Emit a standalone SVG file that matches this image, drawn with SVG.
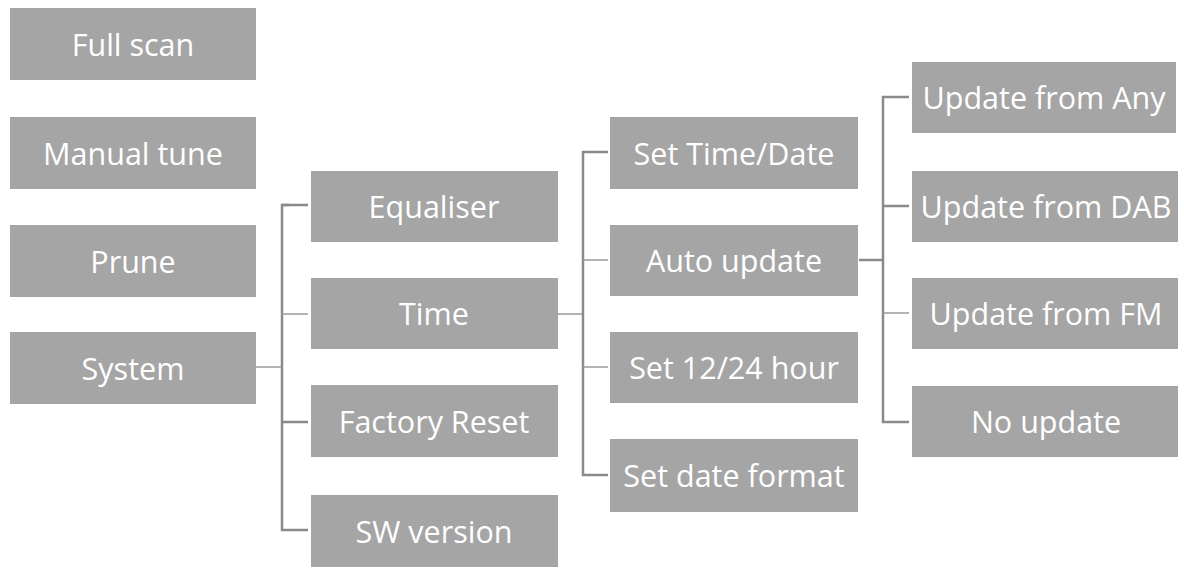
<svg xmlns="http://www.w3.org/2000/svg" width="1184" height="571" viewBox="0 0 1184 571">
<style>
.box{fill:#a5a5a5}
.lbl{fill:#ffffff;font-family:"Open Sans","Noto Sans",sans-serif;font-size:30.5px;text-anchor:middle}
.ln{stroke:#8a8a8a;stroke-width:2.5;fill:none}
.thin{stroke:#9a9a9a;stroke-width:1.5;fill:none}
</style>
<rect width="1184" height="571" fill="#ffffff"/>
<g id="connectors">
<path class="ln" d="M289,205 H282 V530 H308"/>
<path class="ln" d="M282,205 H308 M282,422 H308"/>
<path class="thin" d="M256,367 H282 M282,314 H308 M558,314 H583"/>
<path class="ln" d="M608,152 H583 V475 H608"/>
<path class="thin" d="M583,260 H608 M583,367 H608"/>
<path class="ln" d="M859,260 H883"/>
<path class="ln" d="M909,97 H883 V422 H909 M883,206 H909"/>
<path class="thin" d="M883,313 H909"/>
</g>
<g id="full-scan"><rect class="box" x="10" y="8" width="246" height="72"/><text class="lbl" x="133" y="56">Full scan</text></g>
<g id="manual-tune"><rect class="box" x="10" y="117" width="246" height="72"/><text class="lbl" x="133" y="165">Manual tune</text></g>
<g id="prune"><rect class="box" x="10" y="225" width="246" height="72"/><text class="lbl" x="133" y="273">Prune</text></g>
<g id="system"><rect class="box" x="10" y="332" width="246" height="72"/><text class="lbl" x="133" y="380">System</text></g>
<g id="equaliser"><rect class="box" x="311" y="171" width="247" height="71"/><text class="lbl" x="434" y="218">Equaliser</text></g>
<g id="time"><rect class="box" x="311" y="278" width="247" height="71"/><text class="lbl" x="434" y="325">Time</text></g>
<g id="factory-reset"><rect class="box" x="311" y="385" width="247" height="72"/><text class="lbl" x="434" y="433">Factory Reset</text></g>
<g id="sw-version"><rect class="box" x="311" y="495" width="247" height="72"/><text class="lbl" x="434" y="543">SW version</text></g>
<g id="set-time-date"><rect class="box" x="610" y="117" width="248" height="72"/><text class="lbl" x="734" y="165">Set Time/Date</text></g>
<g id="auto-update"><rect class="box" x="610" y="225" width="248" height="71"/><text class="lbl" x="734" y="272">Auto update</text></g>
<g id="set-12-24"><rect class="box" x="610" y="332" width="248" height="71"/><text class="lbl" x="734" y="379">Set 12/24 hour</text></g>
<g id="set-date-format"><rect class="box" x="610" y="439" width="248" height="73"/><text class="lbl" x="734" y="487">Set date format</text></g>
<g id="update-any"><rect class="box" x="912" y="62" width="264" height="71"/><text class="lbl" x="1044" y="109">Update from Any</text></g>
<g id="update-dab"><rect class="box" x="912" y="171" width="266" height="71"/><text class="lbl" x="1046" y="218">Update from DAB</text></g>
<g id="update-fm"><rect class="box" x="912" y="278" width="266" height="71"/><text class="lbl" x="1046" y="325">Update from FM</text></g>
<g id="no-update"><rect class="box" x="912" y="386" width="266" height="71"/><text class="lbl" x="1046" y="433">No update</text></g>
</svg>
